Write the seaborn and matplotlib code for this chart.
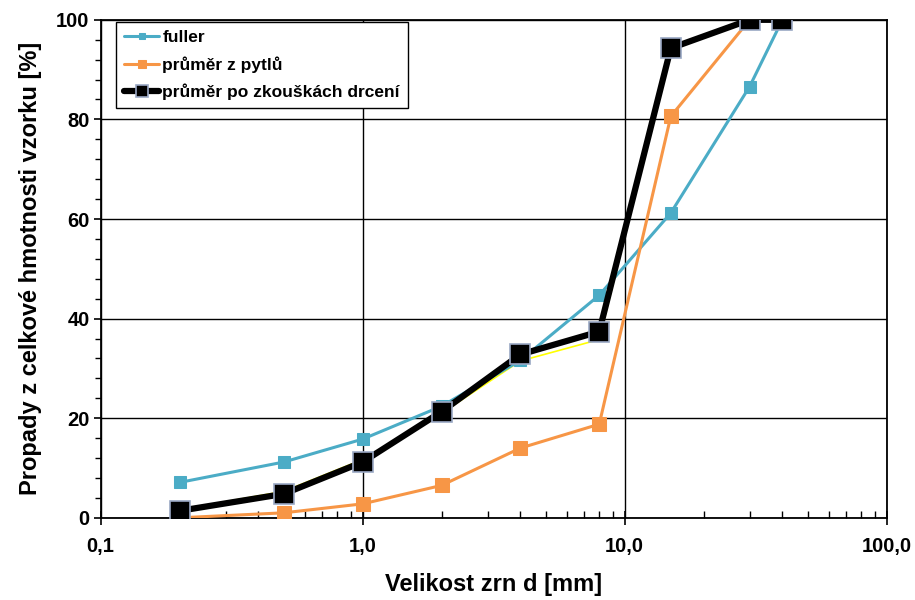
import matplotlib
matplotlib.use('Agg')
import matplotlib.pyplot as plt
import seaborn as sns
import numpy as np
from matplotlib.ticker import FixedLocator, FixedFormatter, MultipleLocator, LogLocator, NullFormatter

# sieve sizes [mm]
sizes = [0.2, 0.5, 1, 2, 4, 8, 15, 30, 40]

# passing [%]
fuller = [7.1, 11.2, 15.8, 22.4, 31.6, 44.7, 61.2, 86.6, 100]
prumer_pytlu = [0.0, 1.0, 2.8, 6.5, 14.0, 18.8, 80.6, 100, 100]
prumer_drceni = [1.4, 4.8, 11.2, 21.3, 32.8, 37.4, 94.3, 100, 100]
# thin yellow helper line behind the black curve (not in legend)
pomocna = [1.6, 5.3, 11.7, 21.0, 31.5, 35.8, 94.0, 100, 100]

x_ticks = [0.1, 1, 10, 100]
x_tick_labels = ["0,1", "1,0", "10,0", "100,0"]
y_ticks = [0, 20, 40, 60, 80, 100]

sns.set_theme(style="ticks")
plt.rcParams['font.family'] = ['Liberation Sans', 'DejaVu Sans']
plt.rcParams['font.weight'] = 'bold'
plt.rcParams['text.color'] = 'black'
plt.rcParams['axes.labelcolor'] = 'black'

fig, ax = plt.subplots(figsize=(9.15, 6), dpi=100)
fig.subplots_adjust(left=0.110, right=0.969, bottom=0.137, top=0.967)

sns.lineplot(x=sizes, y=pomocna, ax=ax, color='#FFFF00', linewidth=1.2, zorder=2)
sns.lineplot(x=sizes, y=fuller, ax=ax, color='#4BACC6', linewidth=2.2,
             marker='s', markersize=8, markeredgecolor='#4BACC6',
             label='fuller', zorder=3)
sns.lineplot(x=sizes, y=prumer_pytlu, ax=ax, color='#F79646', linewidth=2.2,
             marker='s', markersize=10, markeredgecolor='#F79646',
             label='průměr z pytlů', zorder=3)
sns.lineplot(x=sizes, y=prumer_drceni, ax=ax, color='black', linewidth=4.5,
             marker='s', markersize=14, markeredgecolor='#9AA8C4', markeredgewidth=1.2,
             label='průměr po zkouškách drcení', zorder=4)

ax.set_xscale('log')
ax.set_xlim(0.1, 100)
ax.set_ylim(0, 100)

ax.xaxis.set_major_locator(FixedLocator(x_ticks))
ax.xaxis.set_major_formatter(FixedFormatter(x_tick_labels))
ax.xaxis.set_minor_locator(LogLocator(base=10, subs=np.arange(2, 10)))
ax.xaxis.set_minor_formatter(NullFormatter())
ax.yaxis.set_major_locator(FixedLocator(y_ticks))
ax.yaxis.set_minor_locator(MultipleLocator(4))

ax.tick_params(axis='x', which='major', direction='inout', length=10, width=1.2,
               labelsize=14.5, pad=9, colors='black')
ax.tick_params(axis='x', which='minor', direction='in', length=5, width=1.0, colors='black')
ax.tick_params(axis='y', which='major', direction='out', length=5, width=1.2,
               labelsize=14.5, pad=3, colors='black')
ax.tick_params(axis='y', which='minor', direction='out', length=4, width=1.0, colors='black')
for lab in ax.get_xticklabels() + ax.get_yticklabels():
    lab.set_fontweight('bold')

ax.grid(True, which='major', color='black', linewidth=1.0)
for sp in ax.spines.values():
    sp.set_color('black')
    sp.set_linewidth(1.3)

ax.set_xlabel('Velikost zrn d [mm]', fontsize=17, fontweight='bold', labelpad=12)
ax.set_ylabel('Propady z celkové hmotnosti vzorku [%]', fontsize=17, fontweight='bold', labelpad=10)

leg = ax.legend(loc='upper left', bbox_to_anchor=(0.02, 0.996), borderaxespad=0,
                fontsize=12.5, frameon=True, fancybox=False, edgecolor='black',
                framealpha=1, handlelength=2.0, handletextpad=0.2, labelspacing=0.65,
                borderpad=0.45, markerscale=0.6)
leg.get_frame().set_linewidth(1.0)
for t in leg.get_texts():
    t.set_fontweight('bold')

plt.savefig('out.png', dpi=100)
plt.close('all')
